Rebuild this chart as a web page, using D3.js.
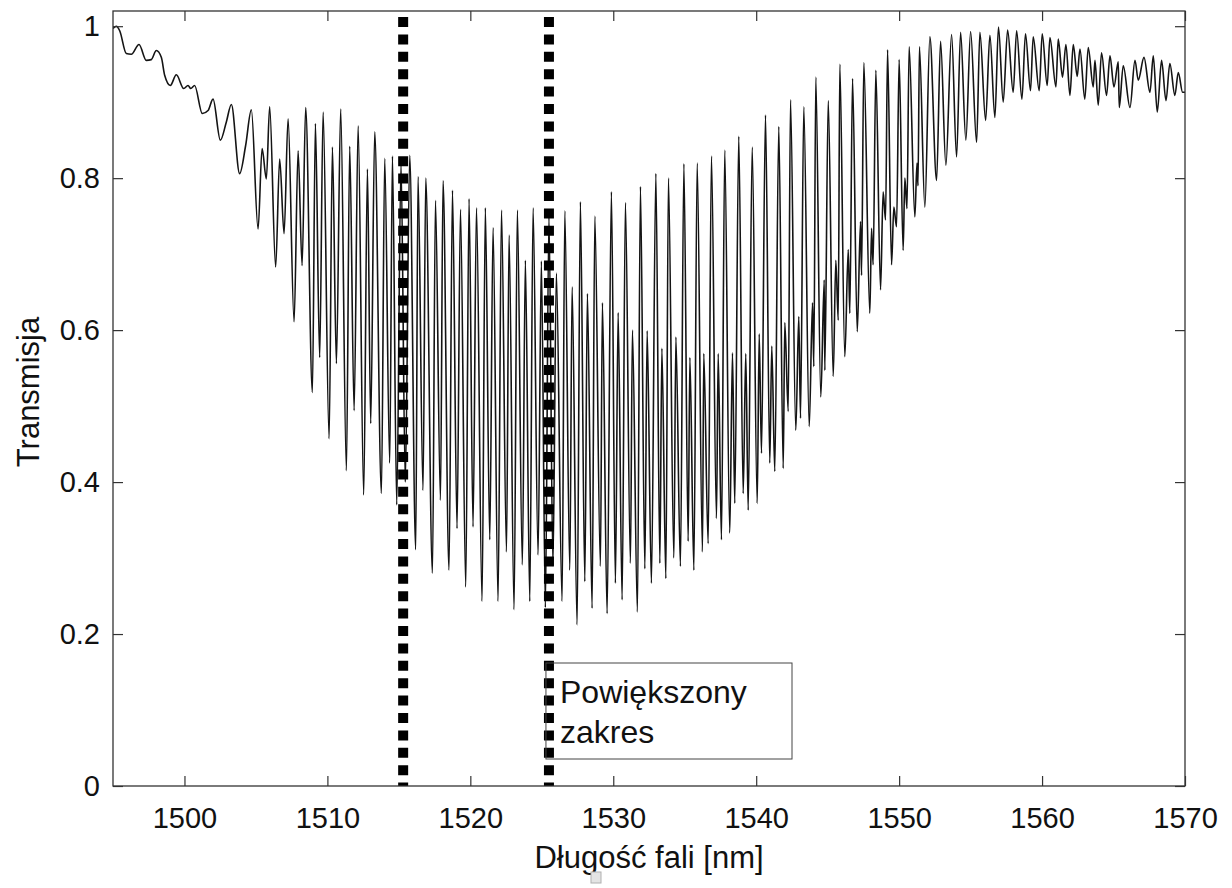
<!DOCTYPE html>
<html>
<head>
<meta charset="utf-8">
<title>Transmisja</title>
<style>
  body { margin: 0; background: #fff; }
  text { font-family: "Liberation Sans", Arial, Helvetica, sans-serif; fill: #111; }
</style>
</head>
<body>
<div id="chart"></div>
<script src="https://cdn.jsdelivr.net/npm/d3@7"></script>
<script>
// wavelength [nm] (peaks and troughs of the fringes)
const wavelength = [
  1495.00, 1495.23, 1495.47, 1495.93, 1496.28, 1496.82, 1497.33, 1497.68, 1498.03, 1498.38,
  1498.62, 1499.01, 1499.43, 1499.95, 1500.25, 1500.44, 1500.71, 1501.25, 1501.65, 1502.00,
  1502.51, 1502.93, 1503.28, 1503.86, 1504.28, 1504.68, 1505.15, 1505.43, 1505.73, 1505.96,
  1506.38, 1506.66, 1506.97, 1507.25, 1507.67, 1507.95, 1508.23, 1508.48, 1508.95, 1509.16,
  1509.46, 1509.70, 1510.12, 1510.35, 1510.63, 1510.93, 1511.33, 1511.56, 1511.87, 1512.15,
  1512.54, 1512.80, 1513.03, 1513.31, 1513.78,
  1514.01, 1514.36, 1514.55, 1514.85, 1515.15, 1515.45, 1515.76, 1516.18, 1516.34, 1516.69,
  1516.88, 1517.35, 1517.56, 1517.91, 1518.09, 1518.51, 1518.75, 1519.07, 1519.31, 1519.68,
  1519.91, 1520.19, 1520.43, 1520.82, 1521.05, 1521.36, 1521.59, 1521.94, 1522.18, 1522.53,
  1522.71, 1523.06, 1523.29, 1523.64, 1523.85, 1524.16, 1524.39, 1524.74, 1524.97, 1525.25,
  1525.50, 1525.78, 1526.02, 1526.42, 1526.61, 1526.96, 1527.12, 1527.47, 1527.70, 1528.01,
  1528.19, 1528.52, 1528.71, 1529.10, 1529.24, 1529.57, 1529.87, 1530.15, 1530.34, 1530.62,
  1530.85, 1531.20, 1531.34, 1531.69, 1531.90, 1532.21, 1532.37, 1532.67,
  1532.98, 1533.26, 1533.40, 1533.68, 1533.86, 1534.24, 1534.38, 1534.70, 1534.94, 1535.24,
  1535.36, 1535.64, 1535.87, 1536.24, 1536.33, 1536.64, 1536.87, 1537.22, 1537.34, 1537.57,
  1537.80, 1538.15, 1538.34, 1538.50, 1538.78, 1539.09, 1539.27, 1539.44, 1539.72, 1540.07,
  1540.21, 1540.37, 1540.65, 1540.95, 1541.09, 1541.30, 1541.58, 1541.89, 1542.00, 1542.24,
  1542.40, 1542.77, 1542.98, 1543.10, 1543.33, 1543.71, 1543.94, 1544.03, 1544.17, 1544.52,
  1544.76, 1544.80, 1545.04, 1545.39, 1545.57, 1545.74, 1545.85, 1546.20, 1546.44, 1546.55,
  1546.74, 1547.07, 1547.30, 1547.37, 1547.53, 1547.95, 1548.07, 1548.18, 1548.37, 1548.70,
  1548.88, 1549.05, 1549.19, 1549.47, 1549.63, 1549.82, 1550.00, 1550.28, 1550.40, 1550.55,
  1550.70, 1551.10, 1551.25, 1551.32, 1551.42, 1551.80,
  1552.15, 1552.62, 1552.90, 1553.27, 1553.67, 1554.02, 1554.30, 1554.67, 1555.00, 1555.42,
  1555.65, 1556.05, 1556.35, 1556.70, 1556.95, 1557.28, 1557.59, 1557.98, 1558.22, 1558.59,
  1558.84, 1559.19, 1559.38, 1559.80, 1560.01, 1560.36, 1560.55, 1560.97, 1561.13, 1561.43,
  1561.67, 1561.95, 1562.18, 1562.46, 1562.65, 1562.99, 1563.23, 1563.58, 1563.70, 1563.93,
  1564.16, 1564.51, 1564.75, 1565.03, 1565.33, 1565.40, 1565.68, 1566.15, 1566.50, 1566.73,
  1567.13, 1567.55, 1567.78, 1568.06, 1568.36, 1568.67, 1568.94, 1569.29, 1569.53, 1569.83,
  1570.00
];

// transmission, same order as wavelength
const transmission = [
  0.997, 1.000, 0.994, 0.964, 0.963, 0.976, 0.955, 0.956, 0.968, 0.959,
  0.935, 0.922, 0.936, 0.918, 0.922, 0.918, 0.922, 0.885, 0.889, 0.904,
  0.850, 0.874, 0.897, 0.806, 0.843, 0.890, 0.733, 0.839, 0.799, 0.894,
  0.683, 0.825, 0.727, 0.878, 0.611, 0.836, 0.685, 0.893, 0.518, 0.872,
  0.564, 0.887, 0.457, 0.841, 0.556, 0.891, 0.415, 0.842, 0.494, 0.869,
  0.383, 0.812, 0.477, 0.861, 0.385,
  0.826, 0.425, 0.829, 0.370, 0.820, 0.400, 0.830, 0.311, 0.802, 0.389,
  0.800, 0.280, 0.771, 0.376, 0.797, 0.284, 0.784, 0.339, 0.759, 0.262,
  0.773, 0.341, 0.761, 0.243, 0.761, 0.324, 0.735, 0.243, 0.758, 0.308,
  0.725, 0.232, 0.758, 0.291, 0.692, 0.243, 0.761, 0.304, 0.691, 0.235,
  0.750, 0.290, 0.675, 0.243, 0.757, 0.284, 0.657, 0.212, 0.769, 0.269,
  0.648, 0.234, 0.750, 0.289, 0.636, 0.227, 0.782, 0.267, 0.623, 0.245,
  0.768, 0.293, 0.600, 0.229, 0.789, 0.286, 0.599, 0.267,
  0.806, 0.293, 0.576, 0.273, 0.800, 0.300, 0.591, 0.289, 0.819, 0.322,
  0.564, 0.284, 0.820, 0.308, 0.569, 0.319, 0.829, 0.352, 0.569, 0.324,
  0.837, 0.333, 0.570, 0.372, 0.855, 0.385, 0.569, 0.363, 0.841, 0.372,
  0.595, 0.438, 0.883, 0.425, 0.579, 0.414, 0.868, 0.418, 0.610, 0.493,
  0.903, 0.468, 0.618, 0.484, 0.894, 0.473, 0.636, 0.552, 0.933, 0.512,
  0.666, 0.547, 0.902, 0.539, 0.692, 0.613, 0.950, 0.565, 0.706, 0.622,
  0.931, 0.598, 0.743, 0.672, 0.952, 0.622, 0.734, 0.686, 0.942, 0.653,
  0.782, 0.745, 0.969, 0.686, 0.762, 0.736, 0.956, 0.705, 0.800, 0.760,
  0.973, 0.749, 0.820, 0.790, 0.973, 0.762,
  0.986, 0.797, 0.980, 0.817, 0.989, 0.828, 0.992, 0.850, 0.993, 0.847,
  0.992, 0.876, 0.988, 0.880, 0.999, 0.900, 0.995, 0.913, 0.994, 0.904,
  0.990, 0.915, 0.986, 0.915, 0.990, 0.922, 0.985, 0.920, 0.983, 0.933,
  0.976, 0.909, 0.976, 0.934, 0.970, 0.904, 0.972, 0.920, 0.955, 0.896,
  0.965, 0.909, 0.961, 0.920, 0.953, 0.893, 0.948, 0.893, 0.955, 0.929,
  0.959, 0.913, 0.961, 0.887, 0.955, 0.902, 0.951, 0.909, 0.939, 0.913,
  0.913
];

const xTicks = [1500, 1510, 1520, 1530, 1540, 1550, 1560, 1570];
const xTickLabels = ['1500', '1510', '1520', '1530', '1540', '1550', '1560', '1570'];
const yTicks = [0, 0.2, 0.4, 0.6, 0.8, 1];
const yTickLabels = ['0', '0.2', '0.4', '0.6', '0.8', '1'];
const markers = [1515.3, 1525.5];          // borders of the zoomed range
const noteLines = ['Powiększony', 'zakres'];

const W = 1232, H = 888;
const plotL = 113, plotR = 1185, plotT = 11, plotB = 786;

const x = d3.scaleLinear().domain([1495, 1570]).range([plotL, plotR]);
const y = d3.scaleLinear().domain([0, 1.02]).range([plotB, plotT]);

const svg = d3.select('#chart').append('svg')
  .attr('width', W).attr('height', H);

const data = wavelength.map((w, i) => [w, transmission[i]]);

svg.append('defs').append('clipPath').attr('id', 'plot')
  .append('rect').attr('x', plotL).attr('y', plotT)
  .attr('width', plotR - plotL).attr('height', plotB - plotT);

// spectrum
svg.append('path')
  .datum(data)
  .attr('clip-path', 'url(#plot)')
  .attr('fill', 'none')
  .attr('stroke', '#141414')
  .attr('stroke-width', 1.6)
  .attr('stroke-linejoin', 'round')
  .attr('d', d3.line().x(d => x(d[0])).y(d => y(d[1])).curve(d3.curveMonotoneX));

// dashed markers
svg.selectAll('line.marker')
  .data(markers)
  .enter().append('line')
  .attr('class', 'marker')
  .attr('x1', d => x(d)).attr('x2', d => x(d))
  .attr('y1', 17).attr('y2', plotB)
  .attr('stroke', '#000')
  .attr('stroke-width', 10)
  .attr('stroke-dasharray', '10 7.4');

// text box
const box = svg.append('g');
box.append('rect')
  .attr('x', x(markers[1]) - 3).attr('y', 663)
  .attr('width', 792 - x(markers[1]) + 3).attr('height', 96)
  .attr('fill', 'none').attr('stroke', '#444').attr('stroke-width', 1);
box.selectAll('text')
  .data(noteLines)
  .enter().append('text')
  .attr('x', 560)
  .attr('y', (d, i) => 703 + i * 40)
  .attr('font-size', 32)
  .text(d => d);

// axes, ticks pointing inward
const fmtX = d => xTickLabels[xTicks.indexOf(d)];
const fmtY = d => yTickLabels[yTicks.indexOf(d)];

svg.append('g').attr('transform', `translate(0,${plotB})`)
  .call(d3.axisBottom(x).tickValues(xTicks).tickSize(-10).tickSizeOuter(0).tickPadding(21).tickFormat(fmtX));
svg.append('g').attr('transform', `translate(0,${plotT})`)
  .call(d3.axisTop(x).tickValues(xTicks).tickSize(-10).tickSizeOuter(0).tickFormat(''));
svg.append('g').attr('transform', `translate(${plotL},0)`)
  .call(d3.axisLeft(y).tickValues(yTicks).tickSize(-10).tickSizeOuter(0).tickPadding(13).tickFormat(fmtY));
svg.append('g').attr('transform', `translate(${plotR},0)`)
  .call(d3.axisRight(y).tickValues(yTicks).tickSize(-10).tickSizeOuter(0).tickFormat(''));

svg.selectAll('.domain').remove();
svg.selectAll('.tick line').attr('stroke', '#333').attr('stroke-width', 1.2);
svg.selectAll('.tick text')
  .attr('font-family', '"Liberation Sans", Arial, sans-serif')
  .attr('font-size', 29).attr('fill', '#111');

svg.append('rect')
  .attr('x', plotL).attr('y', plotT)
  .attr('width', plotR - plotL).attr('height', plotB - plotT)
  .attr('fill', 'none').attr('stroke', '#333').attr('stroke-width', 1.3);

// axis titles
svg.append('text')
  .attr('x', 649).attr('y', 868)
  .attr('text-anchor', 'middle').attr('font-size', 31)
  .text('Długość fali [nm]');
svg.append('text')
  .attr('transform', `translate(39,392) rotate(-90)`)
  .attr('text-anchor', 'middle').attr('font-size', 31)
  .text('Transmisja');

// small anchor mark under the x title
svg.append('rect')
  .attr('x', 591).attr('y', 872).attr('width', 10).attr('height', 11)
  .attr('fill', '#e4e4e4').attr('stroke', '#b0b0b0').attr('stroke-width', 1);
</script>
</body>
</html>
